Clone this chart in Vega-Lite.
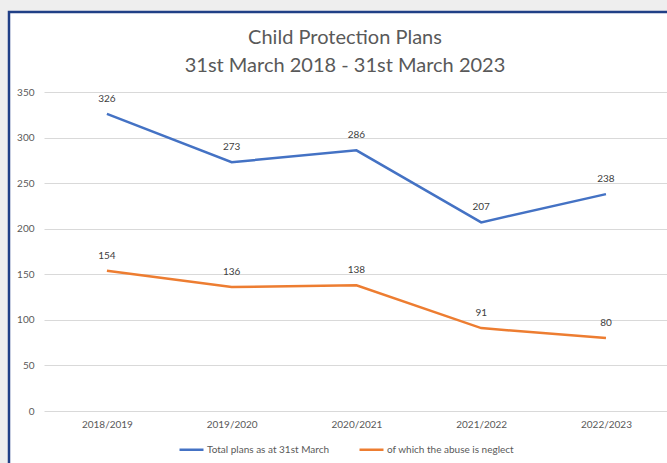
{
  "$schema": "https://vega.github.io/schema/vega-lite/v6.json",
  "width": 658,
  "height": 451,
  "autosize": {"type": "none"},
  "padding": {"left": 9, "top": 12, "right": 0, "bottom": 0},
  "background": "#eeeeee",
  "config": {
    "font": "Lato",
    "view": {"fill": "white", "stroke": "#203f86", "strokeWidth": 2.5, "strokeDash": [658, 1109, 451]}
  },
  "title": {
    "text": ["Child Protection Plans", "31st March 2018 - 31st March 2023"],
    "fontSize": 20,
    "font": "Lato",
    "fontWeight": "normal",
    "color": "#595959",
    "lineHeight": 28,
    "anchor": "middle",
    "frame": "group",
    "offset": -64,
    "dx": 7
  },
  "data": {
    "values": [
      {"period": "2018/2019", "series": "Total plans as at 31st March", "value": 326},
      {"period": "2019/2020", "series": "Total plans as at 31st March", "value": 273},
      {"period": "2020/2021", "series": "Total plans as at 31st March", "value": 286},
      {"period": "2021/2022", "series": "Total plans as at 31st March", "value": 207},
      {"period": "2022/2023", "series": "Total plans as at 31st March", "value": 238},
      {"period": "2018/2019", "series": "of which the abuse is neglect", "value": 154},
      {"period": "2019/2020", "series": "of which the abuse is neglect", "value": 136},
      {"period": "2020/2021", "series": "of which the abuse is neglect", "value": 138},
      {"period": "2021/2022", "series": "of which the abuse is neglect", "value": 91},
      {"period": "2022/2023", "series": "of which the abuse is neglect", "value": 80}
    ]
  },
  "encoding": {
    "x": {
      "field": "period",
      "type": "ordinal",
      "sort": null,
      "scale": {"type": "point", "padding": 0.637, "align": 0.616},
      "axis": {
        "orient": "bottom",
        "offset": -52,
        "domain": false,
        "ticks": false,
        "grid": false,
        "labelPadding": 8,
        "labelColor": "#595959",
        "labelFontSize": 10,
        "labelAngle": 0,
        "title": null
      }
    },
    "y": {
      "field": "value",
      "type": "quantitative",
      "scale": {"domain": [-57.05, 437.8], "nice": false, "zero": false},
      "axis": {
        "orient": "left",
        "offset": -35,
        "values": [0, 50, 100, 150, 200, 250, 300, 350],
        "grid": false,
        "domain": false,
        "ticks": true,
        "tickSize": -630,
        "tickColor": "#d9d9d9",
        "tickWidth": 1,
        "labelPadding": 640,
        "labelColor": "#595959",
        "labelFontSize": 10,
        "title": null,
        "zindex": 0
      }
    }
  },
  "layer": [
    {
      "mark": {"type": "line", "strokeWidth": 2.5},
      "encoding": {
        "color": {
          "field": "series",
          "type": "nominal",
          "scale": {
            "domain": ["Total plans as at 31st March", "of which the abuse is neglect"],
            "range": ["#4472C4", "#ED7D31"]
          },
          "legend": {
            "orient": "none",
            "legendX": 169,
            "legendY": 424,
            "direction": "horizontal",
            "title": null,
            "symbolType": "stroke",
            "symbolSize": 576,
            "symbolStrokeWidth": 2.5,
            "labelFontSize": 10,
            "labelColor": "#595959",
            "labelOffset": 2,
            "columnPadding": 24
          }
        }
      }
    },
    {
      "mark": {"type": "text", "dy": -15, "fontSize": 10, "color": "#404040", "baseline": "middle"},
      "encoding": {"text": {"field": "value", "type": "quantitative"}}
    }
  ]
}
